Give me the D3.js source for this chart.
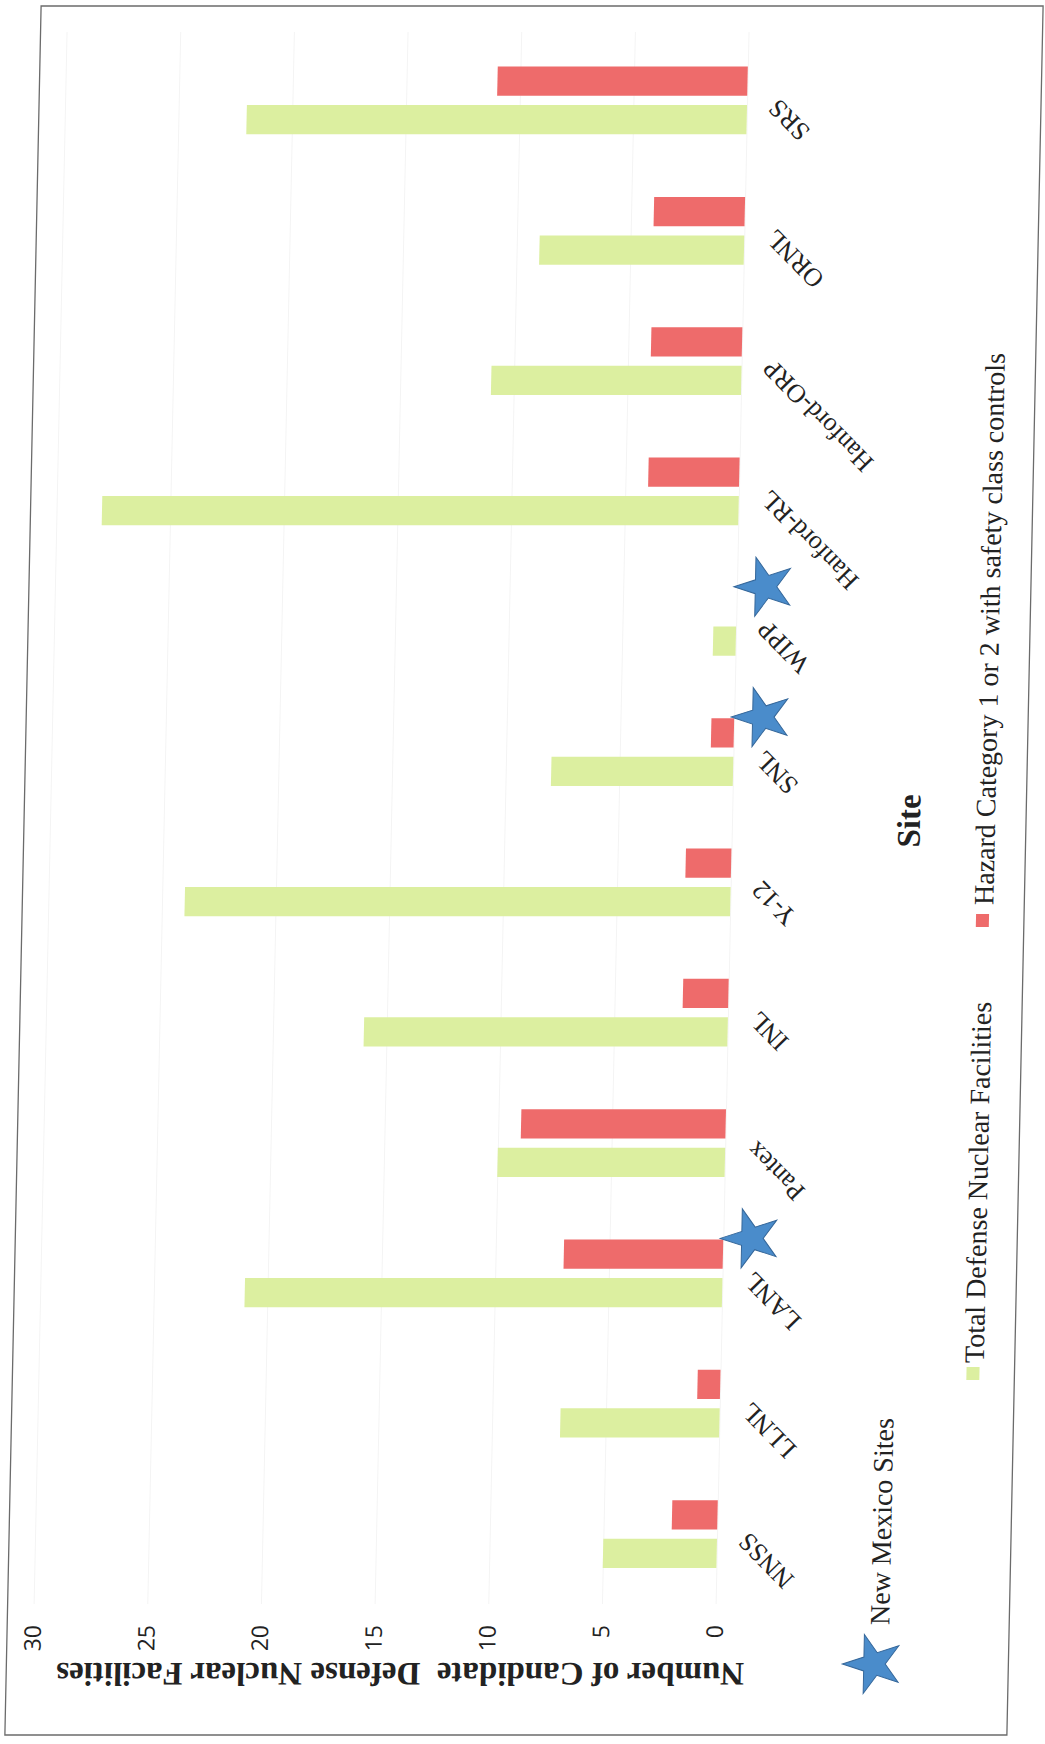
<!DOCTYPE html>
<html lang="en">
<head>
<meta charset="UTF-8">
<title>Candidate Defense Nuclear Facilities by Site</title>
<script src="https://d3js.org/d3.v7.min.js"></script>
<style>
  body{margin:0;background:#fff;}
  svg text{fill:#222;}
</style>
</head>
<body>
<div id="chart"></div>
<script>
// values
const sites=["NNSS","LLNL","LANL","Pantex","INL","Y-12","SNL","WIPP","Hanford-RL","Hanford-ORP","ORNL","SRS"];
const totalFacilities=[5,7,21,10,16,24,8,1,28,11,9,22];
const hazardCat12=[2,1,7,9,2,2,1,0,4,4,4,11];
const newMexicoSites=["LANL","SNL","WIPP"];
const valueTicks=[0,5,10,15,20,25,30];
const seriesKeys=["total","hazard"];
const seriesNames=["Total Defense Nuclear Facilities","Hazard Category 1 or 2 with safety class controls"];
const seriesColors=["#dcefa0","#ee6b6b"];

const W=1045,H=1744;
const rows=sites.map((s,i)=>({site:s,total:totalFacilities[i],hazard:hazardCat12[i]}));

const svg=d3.select('#chart').append('svg')
  .attr('width',W).attr('height',H);

// the page was scanned on its side and a little skewed:
// draw the chart landscape, then turn it and shear it
const g=svg.append('g')
  .attr('transform',`translate(0,870) skewX(-1.2) translate(0,-870) translate(0,${H}) rotate(-90)`);

// chart border
g.append('rect')
  .attr('x',9).attr('y',23)
  .attr('width',1729).attr('height',1002)
  .attr('fill','none').attr('stroke','#6b6b6b').attr('stroke-width',1.3);

const x0=d3.scaleBand().domain(sites).range([144.8,1708.7])
  .paddingInner(0.48).paddingOuter(0.24);
const x1=d3.scaleBand().domain(seriesKeys).range([0,x0.bandwidth()])
  .paddingInner(0.24);
const y=d3.scaleLinear().domain([0,30]).range([731,49]);

// very faint gridlines
const grid=g.append('g').attr('transform','translate(140,0)')
  .call(d3.axisLeft(y).tickValues(valueTicks).tickSize(-(1712-140)).tickFormat(''));
grid.select('.domain').remove();
grid.selectAll('line').attr('stroke','#f4f4f4').attr('stroke-width',1);

// value axis labels
const yAxis=g.append('g').attr('transform','translate(119,0)')
  .call(d3.axisLeft(y).tickValues(valueTicks).tickSize(0).tickPadding(0));
yAxis.select('.domain').remove();
yAxis.selectAll('text')
  .attr('font-family','"Open Sans", sans-serif')
  .attr('font-size',23).attr('fill','#222');

// bars
const groups=g.append('g').selectAll('g').data(rows).enter().append('g')
  .attr('transform',d=>`translate(${x0(d.site)},0)`);
groups.selectAll('rect')
  .data(d=>seriesKeys.map((k,i)=>({key:k,value:d[k],color:seriesColors[i]})))
  .enter().append('rect')
  .attr('x',d=>x1(d.key))
  .attr('y',d=>y(d.value))
  .attr('width',x1.bandwidth())
  .attr('height',d=>y(0)-y(d.value))
  .attr('fill',d=>d.color);

// site labels, slanted
g.append('g').selectAll('text').data(sites).enter().append('text')
  .attr('transform',d=>`translate(${x0(d)+x0.bandwidth()/2+3},763) rotate(-45)`)
  .attr('text-anchor','end')
  .attr('font-family','"Liberation Serif", serif')
  .attr('font-size',26)
  .text(d=>d);

// New Mexico stars
const star=d3.symbol().type(d3.symbolStar).size(1080);
g.append('g').selectAll('path').data(newMexicoSites).enter().append('path')
  .attr('transform',d=>`translate(${x0(d)+x0.bandwidth()/2+35},759)`)
  .attr('d',star)
  .attr('fill','#4a8ccb').attr('stroke','#35679a').attr('stroke-width',1);

// axis titles
g.append('text')
  .attr('transform','translate(81,417) rotate(-90)')
  .attr('text-anchor','middle')
  .attr('font-family','"Liberation Serif", serif')
  .attr('font-weight','bold').attr('font-size',33)
  .style('white-space','pre')
  .text('Number of Candidate  Defense Nuclear Facilities');

g.append('text')
  .attr('x',923).attr('y',919)
  .attr('text-anchor','middle')
  .attr('font-family','"Liberation Serif", serif')
  .attr('font-weight','bold').attr('font-size',33)
  .text('Site');

// New Mexico sites key
g.append('path')
  .attr('transform','translate(80,890)')
  .attr('d',star)
  .attr('fill','#4a8ccb').attr('stroke','#35679a').attr('stroke-width',1);
g.append('text')
  .attr('x',119).attr('y',905)
  .attr('font-family','"Liberation Serif", serif')
  .attr('font-size',28)
  .text('New Mexico Sites');

// series legend
const legendX=[364,817];
const legend=g.append('g').selectAll('g').data(seriesNames).enter().append('g')
  .attr('transform',(d,i)=>`translate(${legendX[i]},0)`);
legend.append('rect')
  .attr('x',0).attr('y',977).attr('width',13).attr('height',13)
  .attr('fill',(d,i)=>seriesColors[i]);
legend.append('text')
  .attr('x',(d,i)=>i===0?17:22).attr('y',994)
  .attr('font-family','"Liberation Serif", serif')
  .attr('font-size',28)
  .text(d=>d);
</script>
</body>
</html>
